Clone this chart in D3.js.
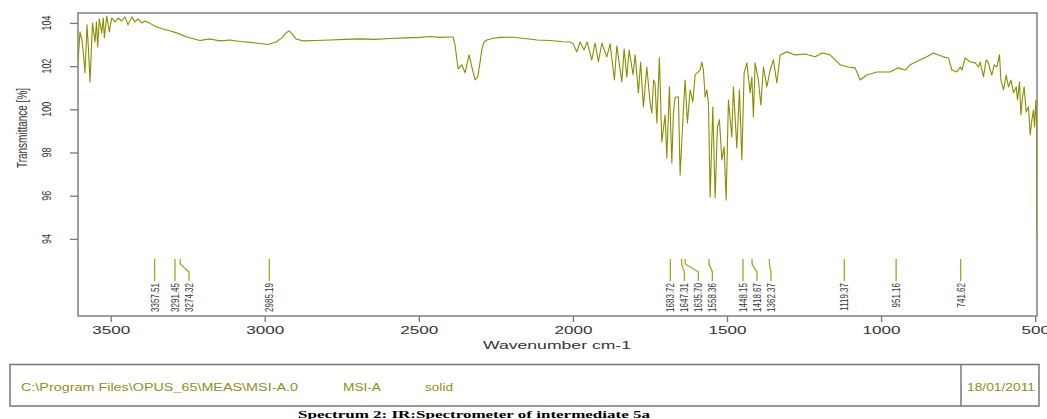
<!DOCTYPE html>
<html>
<head>
<meta charset="utf-8">
<script src="https://cdn.jsdelivr.net/npm/d3@7"></script>
<style>
body { margin: 0; background: #fff; }
svg { display: block; font-family: Arial, "Liberation Sans", sans-serif; }
</style>
</head>
<body>
<div id="chart"></div>
<script>
// spettro IR (numero d'onda cm-1, trasmittanza %)
var wavenumber = [
  3606.0,3599.5,3593.0,3588.1,3583.3,3576.8,3571.9,3567.1,3558.9,3550.8,3546.0,3542.1,3536.9,3529.1,3523.9,3520.6,
  3512.8,3504.4,3496.6,3485.9,3476.2,3464.2,3453.5,3443.7,3431.7,3421.0,3411.3,3399.3,3388.5,3372.3,3350.6,3330.1,
  3306.3,3285.7,3253.2,3210.0,
  3177.6,3145.1,3112.7,3080.2,3047.7,3015.3,2989.3,2963.4,2943.9,2930.9,2921.2,2911.4,2898.4,2875.7,2836.8,2788.1,
  2739.4,2690.7,2642.0,2593.3,2544.7,2496.0,2463.5,2431.1,2392.1,
  2388.9,2382.4,2372.6,2360.6,2349.9,2336.9,2327.2,2317.5,2308.7,2301.2,2295.7,2288.2,2279.5,2259.0,
  2236.3,2194.1,2155.2,2116.2,2074.0,2031.8,2009.1,
  1999.4,1987.4,1976.7,1963.7,1953.9,1938.7,1928.0,1917.3,1906.2,1890.0,1879.3,1865.3,1857.5,1841.3,1833.8,1825.1,
  1817.6,1804.6,1798.1,1787.4,1780.3,1771.2,1760.2,1749.5,1743.9,1738.1,1733.2,1727.7,1719.3,1711.5,1700.8,1695.3,
  1686.8,1679.0,1673.8,1668.3,1657.6,1652.1,1641.4,1635.9,1628.4,1619.6,1610.9,1603.4,1587.2,1581.7,1576.5,1570.9,
  1565.4,1560.2,1554.7,1546.0,1538.5,1531.0,1524.5,1516.7,1509.3,1502.8,1495.3,1484.3,1479.1,1468.1,1459.6,1451.8,
  1444.4,1435.6,1424.9,1419.4,1414.2,1408.7,1398.0,1390.2,1381.7,1370.7,1360.0,1349.3,1338.2,1327.5,1305.8,
  1278.8,1246.4,1213.9,1191.2,1165.2,1149.0,1132.8,1106.8,1084.1,1067.9,1046.1,1013.7,970.5,944.5,921.8,905.6,
  873.1,851.4,830.0,813.7,797.5,781.3,770.2,754.0,743.3,737.8,727.1,710.8,694.6,683.9,678.4,667.7,
  658.9,651.4,645.9,640.4,632.9,624.2,615.7,611.2,602.8,594.0,586.5,578.7,570.3,561.5,557.3,550.8,
  546.3,541.1,535.6,529.1,521.6,516.1,510.6,505.4,502.2,497.6,495.0,493.4
];
var transmittance = [
  102.19,103.58,103.21,102.52,101.69,103.91,102.75,101.27,104.00,103.12,104.05,102.89,104.19,103.54,104.23,103.31,
  104.32,103.58,104.23,104.05,104.23,104.09,104.28,103.91,104.28,104.05,104.19,104.00,104.09,103.98,103.81,103.72,
  103.63,103.54,103.35,103.19,
  103.26,103.17,103.21,103.14,103.10,103.05,103.00,103.12,103.31,103.54,103.63,103.49,103.26,103.17,103.19,103.21,
  103.24,103.26,103.24,103.28,103.31,103.33,103.37,103.33,103.35,
  103.35,102.98,101.87,102.06,101.69,102.52,101.92,101.36,101.50,102.19,102.75,103.12,103.21,103.29,
  103.33,103.34,103.28,103.21,103.19,103.13,103.12,
  103.03,102.66,103.12,102.75,103.12,102.29,103.07,102.19,103.07,102.43,103.03,101.36,102.94,101.27,102.80,101.50,
  102.75,101.59,102.52,100.76,102.19,100.11,101.96,100.30,99.83,101.36,101.18,99.37,102.38,98.49,99.74,97.75,
  101.04,97.52,99.83,100.57,100.57,96.96,99.97,101.36,99.37,100.90,100.34,101.59,101.82,102.19,101.82,100.57,
  100.90,100.30,95.94,100.11,95.90,99.18,99.51,97.66,98.26,95.80,100.43,98.72,101.04,98.21,100.90,97.66,
  101.69,102.15,100.76,101.50,99.65,102.15,101.36,100.20,101.96,101.04,101.82,102.29,101.22,102.52,102.66,
  102.52,102.56,102.43,102.61,102.52,102.29,102.06,101.96,101.92,101.36,101.59,101.73,101.73,101.92,101.82,102.06,
  102.29,102.43,102.61,102.52,102.43,102.38,101.82,101.73,101.96,101.82,102.38,102.19,102.15,101.96,102.19,101.50,
  102.29,102.15,101.82,101.59,102.06,101.96,102.52,101.36,100.90,101.59,101.04,101.36,100.76,101.04,100.43,101.27,
  99.74,100.57,101.04,99.88,100.11,98.81,99.51,99.97,99.18,100.43,99.18,93.95
];
// picchi etichettati
var peaks = [3357.51, 3291.45, 3274.32, 2985.19, 1683.72, 1647.31, 1635.70, 1558.36,
             1448.15, 1418.67, 1362.37, 1119.37, 951.16, 741.62];
var xTicks = [3500, 3000, 2500, 2000, 1500, 1000, 500];
var yTicks = [94, 96, 98, 100, 102, 104];

var width = 1047;
var height = 419;
// attenzione: "top" e' gia' una proprieta' di window, quindi nomi diversi
var plotLeft = 78, plotRight = 1037, plotTop = 13, plotBottom = 316;
var stretch = 1.45; // l'immagine originale e' stirata in orizzontale

var svg = d3.select("#chart")
            .append("svg")
            .attr("width", width)
            .attr("height", height);

var x = d3.scaleLinear().domain([3606, 494]).range([plotLeft, plotRight]);
var y = d3.scaleLinear().domain([90.43, 104.46]).range([plotBottom, plotTop]);

svg.append("clipPath")
   .attr("id", "clip")
   .append("rect")
   .attr("x", plotLeft).attr("y", plotTop)
   .attr("width", plotRight - plotLeft).attr("height", plotBottom - plotTop);

// assi
var xAxis = svg.append("g")
               .attr("transform", `translate(0,${plotBottom})`)
               .call(d3.axisBottom(x).tickValues(xTicks).tickSize(6).tickSizeOuter(0).tickFormat(d3.format("d")));
xAxis.select(".domain").remove();
xAxis.selectAll("line").attr("stroke", "#777").attr("stroke-width", 1.3);
xAxis.selectAll("text")
     .attr("y", 18)
     .attr("dy", null)
     .attr("fill", "#333")
     .style("font-size", "11px")
     .attr("textLength", d => String(d).length * 9.5)
     .attr("lengthAdjust", "spacingAndGlyphs");

var yAxis = svg.append("g")
               .attr("transform", `translate(${plotLeft},0)`)
               .call(d3.axisLeft(y).tickValues(yTicks).tickSize(8).tickSizeOuter(0).tickFormat(""));
yAxis.select(".domain").remove();
yAxis.selectAll("line").attr("stroke", "#777").attr("stroke-width", 1.3);

svg.append("g")
   .selectAll("text")
   .data(yTicks)
   .enter()
   .append("text")
   .attr("transform", d => `translate(46,${y(d)}) scale(${stretch},1) rotate(-90)`)
   .attr("text-anchor", "middle")
   .attr("dy", "0.35em")
   .attr("fill", "#333")
   .style("font-size", "9px")
   .text(d => d);

// cornice
svg.append("rect")
   .attr("x", plotLeft).attr("y", plotTop)
   .attr("width", plotRight - plotLeft).attr("height", plotBottom - plotTop)
   .attr("fill", "none")
   .attr("stroke", "#808080")
   .attr("stroke-width", 1.5);

svg.append("text")
   .attr("transform", `translate(21.5,128) scale(${stretch},1) rotate(-90)`)
   .attr("text-anchor", "middle")
   .attr("dy", "0.35em")
   .attr("fill", "#333")
   .style("font-size", "10px")
   .text("Transmittance [%]");

svg.append("text")
   .attr("x", 557).attr("y", 349)
   .attr("text-anchor", "middle")
   .attr("fill", "#333")
   .style("font-size", "11px")
   .attr("textLength", 148)
   .attr("lengthAdjust", "spacingAndGlyphs")
   .text("Wavenumber cm-1");

// curva dello spettro
var spectrum = wavenumber.map((w, i) => [w, transmittance[i]]);
svg.append("path")
   .datum(spectrum)
   .attr("clip-path", "url(#clip)")
   .attr("fill", "none")
   .attr("stroke", "#8c8c00")
   .attr("stroke-width", 1.1)
   .attr("stroke-linejoin", "round")
   .attr("d", d3.line().x(d => x(d[0])).y(d => y(d[1])));

// etichette dei picchi, spostate per non sovrapporsi
var labelX = [];
peaks.forEach((p, i) => {
    var px = x(p);
    labelX.push(i == 0 ? px : Math.max(px, labelX[i - 1] + 14));
});

var gPeaks = svg.append("g");
gPeaks.selectAll("path")
      .data(peaks)
      .enter()
      .append("path")
      .attr("fill", "none")
      .attr("stroke", "#a3a32a")
      .attr("stroke-width", 1.3)
      .attr("d", (d, i) => `M${x(d)},259 L${x(d)},264 L${labelX[i]},272 L${labelX[i]},281`);

gPeaks.selectAll("text")
      .data(peaks)
      .enter()
      .append("text")
      .attr("transform", (d, i) => `translate(${labelX[i]},283) scale(${stretch},1) rotate(-90)`)
      .attr("text-anchor", "end")
      .attr("dy", "0.35em")
      .attr("fill", "#333")
      .style("font-size", "8px")
      .text(d => d.toFixed(2));

// riquadro informazioni
var footer = svg.append("g");
footer.append("rect")
      .attr("x", 10).attr("y", 364.5)
      .attr("width", 1029).attr("height", 41.5)
      .attr("fill", "none")
      .attr("stroke", "#777")
      .attr("stroke-width", 1.5);
footer.append("line")
      .attr("x1", 961).attr("x2", 961)
      .attr("y1", 364.5).attr("y2", 406)
      .attr("stroke", "#777")
      .attr("stroke-width", 1.5);

var footerTexts = [
    {t: "C:\\Program Files\\OPUS_65\\MEAS\\MSI-A.0", x: 21, w: 277},
    {t: "MSI-A", x: 343, w: 38},
    {t: "solid", x: 425, w: 28},
    {t: "18/01/2011", x: 967, w: 68}
];
footer.selectAll("text")
      .data(footerTexts)
      .enter()
      .append("text")
      .attr("x", d => d.x).attr("y", 390.5)
      .attr("fill", "#8f8f1a")
      .style("font-size", "10px")
      .attr("textLength", d => d.w)
      .attr("lengthAdjust", "spacingAndGlyphs")
      .text(d => d.t);

svg.append("text")
   .attr("x", 298).attr("y", 418)
   .attr("fill", "#000")
   .style("font-family", "'Liberation Serif', 'Times New Roman', serif")
   .style("font-weight", "bold")
   .style("font-size", "10.5px")
   .attr("textLength", 352)
   .attr("lengthAdjust", "spacingAndGlyphs")
   .text("Spectrum 2: IR:Spectrometer of intermediate 5a");
</script>
</body>
</html>
